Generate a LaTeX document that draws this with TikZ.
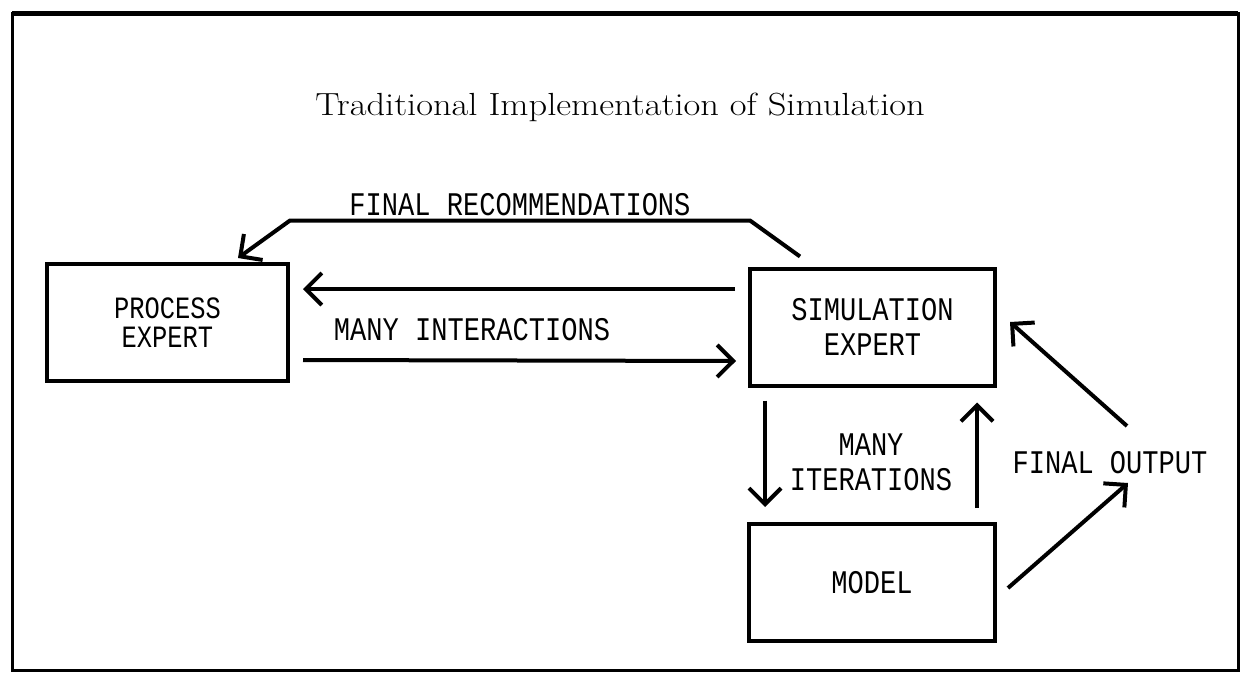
\documentclass[tikz,border=0pt]{standalone}
\usepackage{fontspec}
\usetikzlibrary{arrows.meta}
% narrow monoline lettering for the plotted labels
\newfontfamily\plotfont[FakeStretch=0.82]{Liberation Mono}
% wide book face for the heading
\newfontfamily\titlefont[FakeStretch=1.14]{Latin Modern Roman}

\begin{document}
\begin{tikzpicture}[x=1pt,y=-1pt,
  box/.style={draw,line width=4pt,minimum height=117pt,inner sep=0pt,outer sep=0pt,
    align=center,font=\plotfont\fontsize{33}{35}\selectfont},
  lbl/.style={inner sep=0pt,anchor=base,font=\plotfont\fontsize{33}{35}\selectfont},
  arr/.style={line width=4pt,line cap=butt,-{Straight Barb[length=16pt,width=32pt]}}]
\useasboundingbox (0,0) rectangle (1242,672);

% outer frame
\draw[line width=3pt] (12,13) rectangle (1238,670);
\draw[line width=5pt] (12,13) -- (1238,13);

% title
\node[anchor=base,inner sep=0pt,font=\titlefont\fontsize{32}{38}\selectfont] (title) at (620,115)
  {Traditional Implementation of Simulation};

% boxes
\node[box,minimum width=241pt,font=\plotfont\fontsize{31}{29}\selectfont] (proc) at (167.5,322.5) {PROCESS\\EXPERT};
\node[box,minimum width=245pt] (sim) at (872.5,327) {SIMULATION\\EXPERT};
\node[box,minimum width=246pt] (model) at (872,582.5) {\raisebox{-6pt}{MODEL}};

% labels
\node[lbl] (frlab) at (520,215) {FINAL RECOMMENDATIONS};
\node[lbl] (milab) at (472,340) {MANY INTERACTIONS};
\node[lbl,anchor=center,align=center] (itlab) at (871,462.5) {MANY\\ITERATIONS};
\node[lbl] (folab) at (1110,473) {FINAL OUTPUT};

% connectors
\draw[arr] ([shift={(50,-12)}]sim.north west) -- ++(-50,-36) -- ++(-460,0)
  -- ([shift={(191,-6)}]proc.north west);
\draw[arr] ([shift={(-15,-38)}]sim.west) -- ([shift={(15,-33.5)}]proc.east);
\draw[arr] ([shift={(15,37.5)}]proc.east) -- ([shift={(-14,34)}]sim.west);
\draw[arr] ([shift={(15,15)}]sim.south west) -- ([shift={(16,-17)}]model.north west);
\draw[arr] ([shift={(-18,-16)}]model.north east) -- ([shift={(-18,17)}]sim.south east);
\coordinate (fo1) at (1127,426);
\coordinate (fo2) at (1128,483);
\draw[arr] (fo1) -- ([shift={(15,-5)}]sim.east);
\draw[arr] ([shift={(13,5.5)}]model.east) -- (fo2);
\end{tikzpicture}
\end{document}
